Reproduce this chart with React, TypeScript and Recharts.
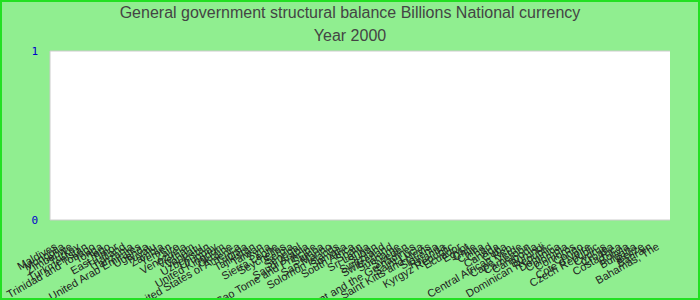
import React from 'react';
import { BarChart, Bar, XAxis, YAxis, CartesianGrid } from 'recharts';

// Countries in the order they appear on the x axis
const COUNTRIES = [
  'Maldives', 'Mongolia', 'Zimbabwe', 'Turkey', 'Turkmenistan', 'Trinidad and Tobago',
  'Tonga', 'Togo', 'East Timor', 'Thailand', 'Tanzania', 'United Arab Emirates',
  'Uganda', 'Tuvalu', 'Zambia', 'Yemen', 'Zaire', 'Venezuela', 'Vietnam',
  'Vanuatu', 'Uzbekistan', 'Uruguay', 'United Kingdom', 'Ukraine',
  'United States of America', 'Tunisia', 'Tajikistan', 'Taiwan', 'Syria',
  'Sierra Leone', 'Seychelles', 'Serbia', 'Senegal', 'Saudi Arabia',
  'Sao Tome and Principe', 'Samoa', 'San Marino', 'Solomon Islands', 'Somalia',
  'South Africa', 'Spain', 'Sri Lanka', 'Sudan', 'Swaziland', 'Switzerland',
  'Suriname', 'Sweden', 'Saint Vincent and the Grenadines', 'Saint Lucia',
  'Saint Kitts and Nevis', 'Slovenia', 'Rwanda', 'Kyrgyz Republic', 'Ecuador', 'Egypt',
  'Chile', 'China', 'Chad', 'Canada', 'Cuba', 'Central African Rep.', 'Cape Verde',
  'Cameroon', 'Cambodia', 'Burundi', 'Dominican Republic', 'Dominica', 'Colombia',
  'Comoros', 'Congo', "Cote d'Ivoire", 'Czech Republic', 'Cyprus', 'Croatia',
  'Costa Rica', 'Bolivia', 'Bulgaria', 'Belize', 'Bahrain', 'Bahamas, The',
];

// Year 2000 values: nothing reported, every bar sits at zero
const BALANCE_2000 = [
  0, 0, 0, 0, 0, 0, 0, 0, 0, 0,
  0, 0, 0, 0, 0, 0, 0, 0, 0, 0,
  0, 0, 0, 0, 0, 0, 0, 0, 0, 0,
  0, 0, 0, 0, 0, 0, 0, 0, 0, 0,
  0, 0, 0, 0, 0, 0, 0, 0, 0, 0,
  0, 0, 0, 0, 0, 0, 0, 0, 0, 0,
  0, 0, 0, 0, 0, 0, 0, 0, 0, 0,
  0, 0, 0, 0, 0, 0, 0, 0, 0, 0,
];

const Y_TICKS = [0, 1];

const data = COUNTRIES.map((country, i) => ({ country, value: BALANCE_2000[i] }));

export default function App() {
  return (
    <div style={{ position: 'relative', width: 700, height: 300, background: '#90ee90', fontFamily: '"Liberation Sans", Arial, sans-serif' }}>
      <style>{'body{margin:0}'}</style>
      <div style={{ position: 'absolute', top: 3, left: 0, width: 700, textAlign: 'center', fontSize: 16, color: '#444', lineHeight: '20px' }}>
        General government structural balance Billions National currency
      </div>
      <div style={{ position: 'absolute', top: 26, left: 0, width: 700, textAlign: 'center', fontSize: 16, color: '#444', lineHeight: '20px' }}>
        Year 2000
      </div>
      <BarChart width={700} height={300} data={data} margin={{ top: 51, right: 30, bottom: 0, left: 0 }}>
        <CartesianGrid fill="#ffffff" stroke="#cccccc" vertical={false} />
        <XAxis
          dataKey="country"
          interval={0}
          angle={-30}
          textAnchor="end"
          height={80}
          tickLine={false}
          axisLine={false}
          tickMargin={16}
          padding={{ left: 0, right: 10 }}
          tick={{ fontSize: 11, fill: '#222' }}
        />
        <YAxis
          domain={[0, 1]}
          ticks={Y_TICKS}
          width={50}
          tickLine={false}
          axisLine={{ stroke: '#cccccc' }}
          tickMargin={6}
          tick={{ fontSize: 11, fill: '#0000cc', fontFamily: '"DejaVu Sans Mono", monospace' }}
        />
        <YAxis yAxisId="right" orientation="right" width={0} domain={[0, 1]} tick={false} tickLine={false} axisLine={{ stroke: '#cccccc' }} />
        <Bar dataKey="value" fill="#3366cc" isAnimationActive={false} />
      </BarChart>
      <div style={{ position: 'absolute', inset: 0, border: '2px solid #22e022', boxSizing: 'border-box', pointerEvents: 'none' }} />
    </div>
  );
}
